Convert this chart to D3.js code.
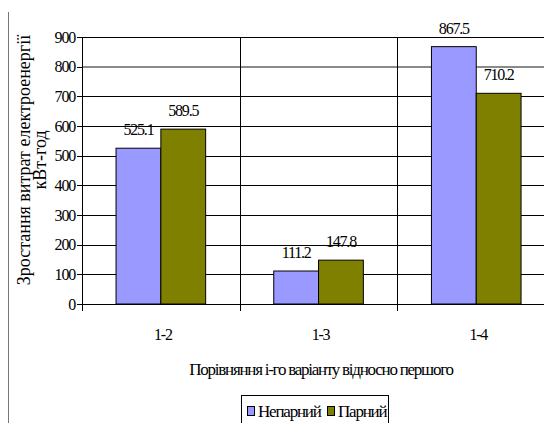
<!DOCTYPE html>
<html>
<head>
<meta charset="utf-8">
<script src="https://cdn.jsdelivr.net/npm/d3@7"></script>
<style>
  html, body { margin: 0; padding: 0; background: #fff; }
  svg { display: block; }
</style>
</head>
<body>
<svg id="chart" width="544" height="423" font-family="'Liberation Serif', 'Times New Roman', 'DejaVu Serif', serif"></svg>
<script>
// Comparison variants (i-th vs first)
const categories = ["1-2", "1-3", "1-4"];
const seriesNames = ["Непарний", "Парний"];
const unpaired = [525.1, 111.2, 867.5];
const paired = [589.5, 147.8, 710.2];
const yTicks = [0, 100, 200, 300, 400, 500, 600, 700, 800, 900];
const seriesColors = ["#9999FF", "#808000"];

const rows = categories.map((c, i) => ({ cat: c, values: [unpaired[i], paired[i]] }));

const svg = d3.select("#chart");
const SERIF = "'Liberation Serif', 'Times New Roman', 'DejaVu Serif', serif";
const W = 544;
const plotLeft = 82, plotTop = 37, plotBottom = 304;
const bandW = 157.7;

const x0 = d3.scaleBand().domain(categories)
  .range([plotLeft, plotLeft + bandW * categories.length]).padding(0);
const x1 = d3.scaleBand().domain(seriesNames)
  .range([0, x0.bandwidth()]).paddingInner(0).paddingOuter(0.76);
const y = d3.scaleLinear().domain([0, 900]).range([plotBottom, plotTop]);
const crisp = v => Math.round(v) + 0.5;

// outer frame fragment on the left
svg.append("line").attr("x1", 8.5).attr("x2", 8.5).attr("y1", 12).attr("y2", 423)
  .attr("stroke", "#777").attr("stroke-width", 1);

// horizontal gridlines
svg.append("g").selectAll("line").data(yTicks.filter(v => v > 0)).join("line")
  .attr("x1", plotLeft).attr("x2", W)
  .attr("y1", d => d === 800 ? Math.round(y(d)) : crisp(y(d)))
  .attr("y2", d => d === 800 ? Math.round(y(d)) : crisp(y(d)))
  .attr("stroke", d => d === 800 ? "#8a8a8a" : "#000")
  .attr("stroke-width", d => d === 800 ? 2 : 1);

// vertical separators between categories, with ticks below the axis
svg.append("g").selectAll("line").data(categories).join("line")
  .attr("x1", d => crisp(x0(d) + x0.bandwidth()))
  .attr("x2", d => crisp(x0(d) + x0.bandwidth()))
  .attr("y1", plotTop).attr("y2", plotBottom + 7)
  .attr("stroke", "#000");

// bars
const groups = svg.append("g").selectAll("g").data(rows).join("g")
  .attr("transform", d => `translate(${x0(d.cat)},0)`);
groups.selectAll("rect").data(d => d.values.map((v, i) => ({ key: seriesNames[i], v, i }))).join("rect")
  .attr("x", d => x1(d.key))
  .attr("y", d => y(d.v))
  .attr("width", x1.bandwidth())
  .attr("height", d => y(0) - y(d.v))
  .attr("fill", d => seriesColors[d.i])
  .attr("stroke", "#000").attr("stroke-width", 1);

// value labels
groups.selectAll("text").data(d => d.values.map((v, i) => ({ key: seriesNames[i], v }))).join("text")
  .attr("x", d => x1(d.key) + x1.bandwidth() / 2)
  .attr("y", d => y(d.v) - 13)
  .attr("text-anchor", "middle")
  .attr("font-family", SERIF)
  .attr("font-size", 16).attr("letter-spacing", -1.2)
  .text(d => d3.format(".1f")(d.v));

// y axis
svg.append("line").attr("x1", crisp(plotLeft)).attr("x2", crisp(plotLeft))
  .attr("y1", plotTop).attr("y2", plotBottom + 7).attr("stroke", "#000");
const yAxis = svg.append("g");
yAxis.selectAll("line").data(yTicks).join("line")
  .attr("x1", plotLeft - 5).attr("x2", plotLeft)
  .attr("y1", d => crisp(y(d))).attr("y2", d => crisp(y(d)))
  .attr("stroke", "#000");
yAxis.selectAll("text").data(yTicks).join("text")
  .attr("x", plotLeft - 7).attr("y", d => y(d) + 5.5)
  .attr("text-anchor", "end")
  .attr("font-family", SERIF)
  .attr("font-size", 16).attr("letter-spacing", -1.2)
  .text(d => d);

// x axis
svg.append("line").attr("x1", plotLeft - 5).attr("x2", W)
  .attr("y1", crisp(plotBottom)).attr("y2", crisp(plotBottom)).attr("stroke", "#000");
svg.append("g").selectAll("text").data(categories).join("text")
  .attr("x", d => x0(d) + x0.bandwidth() / 2 + 2)
  .attr("y", 340)
  .attr("text-anchor", "middle")
  .attr("font-family", SERIF)
  .attr("font-size", 16).attr("letter-spacing", -1.2)
  .text(d => d);

// axis titles
svg.append("text").attr("x", 321).attr("y", 375)
  .attr("text-anchor", "middle")
  .attr("font-family", SERIF)
  .attr("font-size", 17).attr("letter-spacing", -1.25)
  .text("Порівняння і-го варіанту відносно першого");

const yTitle = svg.append("text").attr("text-anchor", "middle")
  .attr("font-family", SERIF).attr("font-size", 18)
  .attr("transform", "translate(0,160) rotate(-90)");
yTitle.append("tspan").attr("x", 0).attr("y", 30).text("Зростання витрат електроенергії");
yTitle.append("tspan").attr("x", 0).attr("y", 46).text("кВт-год");

// legend
const legend = svg.append("g");
legend.append("rect").attr("x", 241.5).attr("y", 395.5).attr("width", 147).attr("height", 40)
  .attr("fill", "#fff").attr("stroke", "#000");
const legendX = [247, 327];
seriesNames.forEach((name, i) => {
  legend.append("rect").attr("x", legendX[i] + 0.5).attr("y", 406.5).attr("width", 7).attr("height", 9)
    .attr("fill", seriesColors[i]).attr("stroke", "#000");
  legend.append("text").attr("x", legendX[i] + 11).attr("y", 417)
    .attr("font-family", SERIF)
    .attr("font-size", 17).attr("letter-spacing", -1.2).text(name);
});
</script>
</body>
</html>
